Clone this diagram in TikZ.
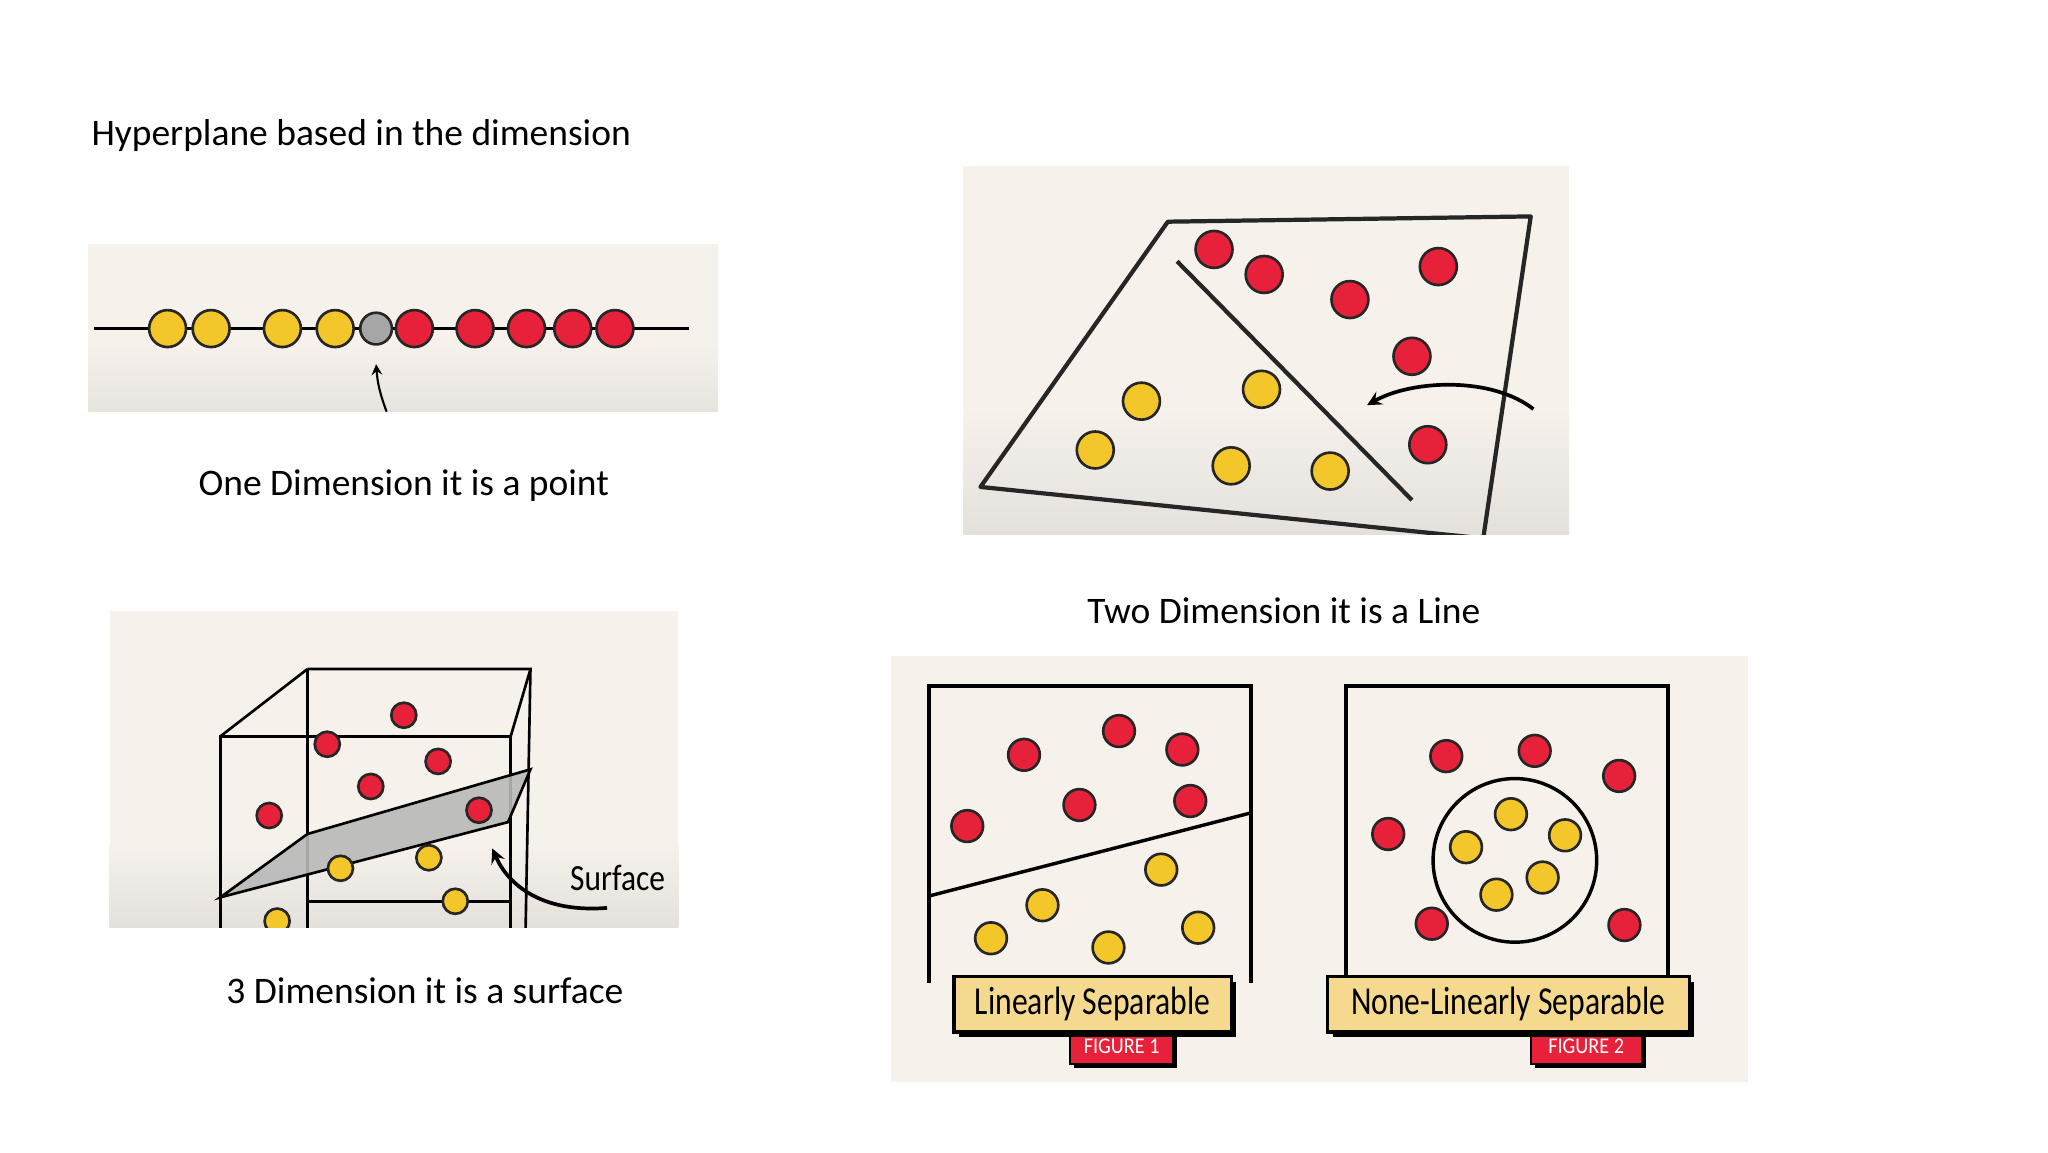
\documentclass[tikz,border=0pt]{standalone}
\usepackage{fontspec}
\setmainfont{Carlito}
\usetikzlibrary{shadows}
\begin{document}
\begin{tikzpicture}[x=0.5pt,y=-0.5pt,
 ln/.style={line width=1.6pt,black!85},
 rb/.style={circle,draw=black!85,line width=1pt,fill=pred,inner sep=0pt,minimum size=#1},
 yb/.style={circle,draw=black!85,line width=1pt,fill=pyel,inner sep=0pt,minimum size=#1},
 captxt/.style={font=\fontsize{14.2}{17}\selectfont},
 lab/.style={draw=black,line width=1.2pt,fill=plab,font=\fontsize{15}{16}\selectfont,inner sep=0pt,drop shadow={shadow xshift=2pt,shadow yshift=-2pt,opacity=1,fill=black}},
 tagbox/.style={draw=black,line width=0.8pt,fill=pred,text=white,font=\fontsize{8.5}{9}\selectfont,inner sep=0pt,drop shadow={shadow xshift=1.5pt,shadow yshift=-1.5pt,opacity=1,fill=black}}]
\definecolor{pbg}{HTML}{F6F1EB}
\definecolor{pred}{HTML}{E8213A}
\definecolor{pyel}{HTML}{F3C62A}
\definecolor{plab}{HTML}{F5D98E}
\useasboundingbox[fill=white] (0,0) rectangle (1552,873);
\node[captxt,anchor=west,inner sep=0pt] (title) at (69,103) {Hyperplane based in the dimension};
% panel 1
\fill[pbg] (67,185) rectangle (544,260);
\shade[top color=pbg,bottom color=pbg!88!gray] (67,260) rectangle (544,312);
\coordinate (l1) at (71,249); \coordinate (l2) at (522,249);
\draw[line width=1.2pt] (l1) -- (l2);
\foreach \x [count=\i] in {127,160,214,254} \node[yb=14pt] (a\i) at (\x,249) {};
\node[circle,draw=black!85,line width=1pt,fill=gray!70,minimum size=12pt,inner sep=0pt] (g) at (285,249) {};
\foreach \x [count=\i] in {314,360,399,434,466} \node[rb=14pt] (b\i) at (\x,249) {};
\coordinate (p1) at (293,312); \coordinate (p2) at (285,276);
\draw[line width=0.8pt,-stealth] (p1) to[bend left=8] (p2);
\node[captxt] (c1) at (306,368) {One Dimension it is a point};
% panel 2
\fill[pbg] (730,126) rectangle (1189,310);
\shade[top color=pbg,bottom color=pbg!85!gray] (730,310) rectangle (1189,405);
\begin{scope}
\clip (730,126) rectangle (1189,405);
\draw[ln,line join=round] (885,168) -- (1160,164) -- (1124,408) -- (743,369) -- cycle;
\end{scope}
\coordinate (h1) at (892,198); \coordinate (h2) at (1070,379);
\draw[ln] (h1) -- (h2);
\foreach \p [count=\i] in {(920,189),(958,208),(1023,227),(1090,202),(1070,270),(1082,337)} \node[rb=14pt] (r2\i) at \p {};
\foreach \p [count=\i] in {(865,304),(956,295),(830,341),(933,353),(1008,357)} \node[yb=14pt] (y2\i) at \p {};
\coordinate (q1) at (1162,310); \coordinate (q2) at (1036,307);
\draw[line width=1.4pt,-stealth] (q1) .. controls (1130,285) and (1070,288) .. (q2);
\node[captxt] (c2) at (973,463) {Two Dimension it is a Line};
% panel 3
\fill[pbg] (83,463) rectangle (514,640);
\shade[top color=pbg,bottom color=pbg!85!gray] (83,640) rectangle (514,703);
\begin{scope}
\clip (83,463) rectangle (514,703);
\draw[line width=1pt] (167,558) rectangle (387,720);
\draw[line width=1pt] (233,507) -- (402,507) -- (398,720);
\draw[line width=1pt] (233,507) -- (233,720);
\draw[line width=1pt] (167,558) -- (233,507) (387,558) -- (402,507);
\draw[line width=1pt] (233,683) -- (387,683);
\fill[gray!55,fill opacity=0.9] (167,680) -- (233,632) -- (402,583) -- (385,623) -- cycle;
\draw[line width=1pt] (167,680) -- (233,632) -- (402,583) -- (385,623) -- cycle;
\foreach \p [count=\i] in {(258,658),(325,650),(345,683),(210,698)} \node[yb=9.5pt] (y3\i) at \p {};
\end{scope}
\foreach \p [count=\i] in {(306,542),(248,564),(332,577),(281,596),(204,618),(363,614)} \node[rb=9.5pt] (r3\i) at \p {};
\node[font=\fontsize{14}{16}\selectfont] (surf) at (468,665) {\scalebox{0.85}[1]{Surface}};
\coordinate (s1) at (460,688); \coordinate (s2) at (373,643);
\draw[line width=1.4pt,-stealth] (s1) .. controls (410,692) and (385,670) .. (s2);
\node[captxt] (c3) at (322,751) {3 Dimension it is a surface};
% panel 4
\fill[pbg] (675,497) rectangle (1325,820);
\draw[line width=1.3pt] (704,745) -- (704,520) -- (948,520) -- (948,745);
\draw[line width=1.3pt] (704,679) -- (948,616);
\foreach \p [count=\i] in {(776,572),(848,554),(896,568),(733,626),(818,610),(902,607)} \node[rb=12pt] (r4\i) at \p {};
\foreach \p [count=\i] in {(880,659),(790,686),(751,711),(840,718),(908,703)} \node[yb=12pt] (y4\i) at \p {};
\node[tagbox,minimum width=39pt,minimum height=13pt] (t1) at (850,793) {\scalebox{0.9}[1]{FIGURE 1}};
\node[lab,minimum width=105pt,minimum height=21pt] (L1) at (828,761) {\scalebox{0.8}[1]{Linearly Separable}};
\draw[line width=1.3pt] (1020,745) -- (1020,520) -- (1264,520) -- (1264,745);
\draw[line width=1.3pt] (1148,652) circle (62);
\foreach \p [count=\i] in {(1096,573),(1163,569),(1227,588),(1052,632),(1085,700),(1231,701)} \node[rb=12pt] (r5\i) at \p {};
\foreach \p [count=\i] in {(1145,617),(1111,642),(1186,633),(1134,678),(1169,665)} \node[yb=12pt] (y5\i) at \p {};
\node[tagbox,minimum width=42pt,minimum height=13pt] (t2) at (1202,793) {\scalebox{0.9}[1]{FIGURE 2}};
\node[lab,minimum width=137pt,minimum height=21pt] (L2) at (1143,761) {\scalebox{0.8}[1]{None-Linearly Separable}};
\end{tikzpicture}
\end{document}
